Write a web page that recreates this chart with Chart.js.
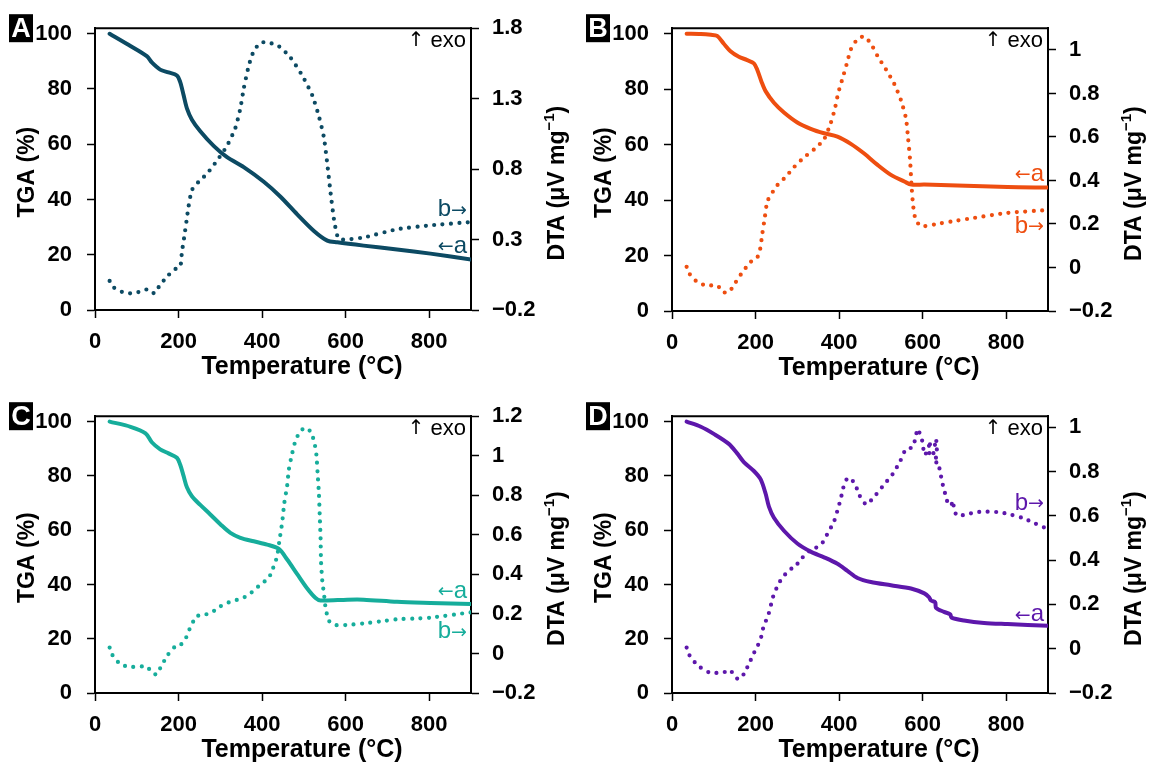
<!DOCTYPE html>
<html>
<head>
<meta charset="utf-8">
<script src="https://cdn.jsdelivr.net/npm/chart.js@4.4.1/dist/chart.umd.min.js"></script>
<style>
  body { margin: 0; background: #fff; width: 1154px; height: 776px; position: relative; overflow: hidden; }
  .panel { position: absolute; width: 577px; height: 388px; }
</style>
</head>
<body>
<div class="panel" style="left:0;top:0"><canvas id="chartA" width="577" height="388"></canvas></div>
<div class="panel" style="left:577px;top:0"><canvas id="chartB" width="577" height="388"></canvas></div>
<div class="panel" style="left:0;top:388px"><canvas id="chartC" width="577" height="388"></canvas></div>
<div class="panel" style="left:577px;top:388px"><canvas id="chartD" width="577" height="388"></canvas></div>
<script>
// tick labels
const tempTicks = [0, 200, 400, 600, 800];
const tgaTicks = [0, 20, 40, 60, 80, 100];
const dtaTicksA = [-0.2, 0.3, 0.8, 1.3, 1.8];
const dtaTicksB = [-0.2, 0, 0.2, 0.4, 0.6, 0.8, 1];
const dtaTicksC = [-0.2, 0, 0.2, 0.4, 0.6, 0.8, 1, 1.2];
const dtaTicksD = [-0.2, 0, 0.2, 0.4, 0.6, 0.8, 1];

// A
const tgaTempA = [35, 80, 124, 136, 156, 176, 196, 204, 212, 220, 232, 252, 284, 316, 356, 404, 444, 484, 524, 556, 580, 643, 723, 803, 900];
const tgaA = [100, 96, 91.9, 89.6, 87, 86, 84.9, 82.5, 77.8, 73, 68.9, 64.7, 59.4, 55.3, 51.7, 46.4, 41, 34.6, 28.6, 25.1, 24.5, 23.3, 21.9, 20.4, 18.3];
const dtaTempA = [35, 45, 65, 85, 105, 124, 134, 142, 156, 176, 192, 204, 208, 214, 219, 224, 232, 248, 268, 292, 316, 336, 348, 356, 368, 380, 396, 412, 440, 468, 496, 520, 536, 548, 556, 564, 572, 580, 588, 643, 723, 803, 900];
const dtaA = [0.006, -0.04, -0.072, -0.082, -0.072, -0.054, -0.063, -0.082, -0.021, 0.048, 0.09, 0.106, 0.21, 0.327, 0.431, 0.536, 0.651, 0.71, 0.767, 0.86, 0.965, 1.092, 1.232, 1.371, 1.533, 1.638, 1.696, 1.7, 1.672, 1.591, 1.464, 1.324, 1.174, 1.023, 0.837, 0.628, 0.443, 0.327, 0.299, 0.315, 0.373, 0.401, 0.424];

// B
const tgaTempB = [35, 69, 93, 108, 124, 140, 160, 180, 196, 204, 214, 224, 244, 268, 300, 332, 364, 396, 428, 460, 492, 524, 556, 573, 604, 683, 803, 900];
const tgaB = [100, 99.9, 99.6, 99.2, 96.4, 93.7, 91.7, 90.5, 89.3, 87, 82.8, 79.3, 75.1, 71.6, 68, 65.7, 64.1, 62.9, 60.3, 56.8, 52.7, 49.1, 46.7, 45.6, 45.6, 45.3, 44.7, 44.5];
const dtaTempB = [35, 41, 61, 85, 105, 117, 124, 136, 152, 168, 188, 204, 211, 216, 222, 228, 238, 252, 272, 292, 316, 340, 364, 380, 390, 398, 409, 419, 428, 444, 460, 476, 492, 512, 532, 548, 560, 565, 570, 573, 577, 582, 592, 604, 643, 683, 723, 803, 900];
const dtaB = [0.003, -0.027, -0.068, -0.084, -0.08, -0.098, -0.114, -0.114, -0.069, -0.023, 0.025, 0.046, 0.085, 0.153, 0.228, 0.303, 0.338, 0.378, 0.416, 0.461, 0.506, 0.543, 0.589, 0.664, 0.731, 0.803, 0.874, 0.941, 1.002, 1.05, 1.062, 1.029, 0.972, 0.911, 0.844, 0.769, 0.686, 0.596, 0.491, 0.386, 0.288, 0.228, 0.195, 0.19, 0.203, 0.216, 0.228, 0.251, 0.264];

// C
const tgaTempC = [35, 85, 121, 136, 156, 176, 196, 204, 212, 220, 232, 252, 276, 300, 324, 348, 380, 412, 440, 460, 484, 508, 528, 540, 604, 643, 723, 803, 900];
const tgaC = [100, 98.1, 95.7, 92.4, 89.8, 88.3, 86.7, 84.1, 80, 75.8, 72.5, 69.3, 65.8, 62.2, 59, 57.2, 55.9, 54.7, 53.1, 49.2, 43.8, 38.5, 35, 34.1, 34.4, 34.4, 33.6, 33.2, 32.8];
const dtaTempC = [35, 41, 61, 85, 124, 134, 147, 156, 172, 184, 192, 204, 214, 222, 228, 236, 244, 260, 280, 300, 320, 340, 360, 376, 392, 408, 420, 428, 436, 441, 448, 453, 460, 464, 472, 480, 492, 506, 517, 525, 530, 533, 536, 538, 540, 541, 544, 548, 552, 560, 576, 604, 643, 683, 723, 763, 803, 900];
const dtaC = [0.03, -0.006, -0.055, -0.068, -0.066, -0.091, -0.107, -0.075, -0.014, 0.018, 0.035, 0.043, 0.062, 0.1, 0.132, 0.165, 0.189, 0.194, 0.209, 0.238, 0.258, 0.271, 0.287, 0.311, 0.341, 0.368, 0.398, 0.442, 0.491, 0.564, 0.662, 0.759, 0.849, 0.93, 1.012, 1.077, 1.126, 1.142, 1.118, 1.069, 1.004, 0.906, 0.808, 0.694, 0.58, 0.466, 0.368, 0.303, 0.23, 0.165, 0.144, 0.144, 0.152, 0.162, 0.173, 0.176, 0.181, 0.208];

// D
const tgaTempD = [35, 69, 101, 136, 156, 172, 196, 212, 224, 232, 244, 268, 300, 332, 364, 396, 420, 444, 476, 524, 572, 604, 615, 620, 630, 632, 651, 666, 669, 699, 747, 803, 900];
const tgaD = [100, 98.1, 95.4, 91.8, 88.3, 85.1, 81.8, 78.8, 73.5, 68.7, 64.6, 59.8, 55.1, 52.1, 50, 47.6, 45, 42.4, 40.9, 39.7, 38.5, 36.7, 35.3, 34.1, 33.4, 31.4, 29.9, 29, 27.8, 26.7, 25.8, 25.4, 24.8];
const dtaTempD = [35, 41, 61, 89, 113, 132, 140, 150, 160, 172, 188, 196, 204, 212, 220, 230, 234, 239, 244, 252, 260, 272, 288, 300, 312, 328, 344, 360, 368, 378, 388, 398, 404, 410, 420, 430, 440, 448, 464, 476, 488, 508, 528, 546, 560, 576, 581, 588, 594, 600, 604, 612, 618, 616, 624, 628, 632, 634, 628, 636, 644, 648, 653, 658, 668, 672, 676, 683, 707, 731, 755, 779, 799, 840, 870, 900];
const dtaD = [0.005, -0.027, -0.075, -0.107, -0.109, -0.103, -0.097, -0.126, -0.138, -0.114, -0.053, -0.02, 0.009, 0.042, 0.106, 0.147, 0.179, 0.212, 0.248, 0.28, 0.309, 0.338, 0.365, 0.383, 0.411, 0.44, 0.455, 0.478, 0.505, 0.539, 0.575, 0.637, 0.677, 0.727, 0.771, 0.764, 0.735, 0.695, 0.652, 0.669, 0.695, 0.742, 0.788, 0.846, 0.902, 0.909, 0.938, 0.992, 0.967, 0.931, 0.875, 0.894, 0.938, 0.873, 0.873, 0.904, 0.948, 0.88, 0.836, 0.844, 0.778, 0.742, 0.706, 0.669, 0.645, 0.669, 0.623, 0.6, 0.608, 0.617, 0.619, 0.617, 0.611, 0.59, 0.565, 0.54];

const FONT = '"Liberation Sans", "DejaVu Sans", sans-serif';
const ARROW_FONT = '"DejaVu Sans", sans-serif';

function pts(xs, ys) {
  return xs.map((x, i) => ({ x: x, y: ys[i] }));
}

function fmt(v) {
  const r = Math.round(v * 10) / 10;
  return (r < 0 ? '\u2212' : '') + String(Math.abs(r));
}

// text made of pieces in different fonts, right edge at xr
function drawParts(ctx, parts, xr, y) {
  let total = 0;
  parts.forEach(p => { ctx.font = p.font; p.w = ctx.measureText(p.t).width; total += p.w; });
  let x = xr - total;
  ctx.textAlign = 'left';
  parts.forEach(p => { ctx.font = p.font; ctx.fillText(p.t, x, y + (p.dy || 0)); x += p.w; });
}

// frame top line, panel letter, axis titles and the small labels
const decor = {
  id: 'decor',
  afterDraw(chart, args, o) {
    const { ctx, chartArea: a, scales } = chart;
    const midY = (a.top + a.bottom) / 2;
    ctx.save();
    ctx.strokeStyle = '#000';
    ctx.lineWidth = 2;
    ctx.beginPath();
    ctx.moveTo(a.left - 1, a.top);
    ctx.lineTo(a.right + 1, a.top);
    ctx.stroke();

    ctx.fillStyle = '#000';
    ctx.fillRect(9, a.top - 14, 24, 28);
    ctx.fillStyle = '#fff';
    ctx.font = 'bold 27px ' + FONT;
    ctx.textAlign = 'center';
    ctx.textBaseline = 'middle';
    ctx.fillText(o.letter, 21, a.top + 1);

    ctx.fillStyle = '#000';
    ctx.font = 'bold 25px ' + FONT;
    ctx.fillText('Temperature (\u00B0C)', (a.left + a.right) / 2 + 19, a.bottom + 57);

    ctx.save();
    ctx.font = 'bold 23px ' + FONT;
    ctx.translate(28, midY + 3);
    ctx.rotate(-Math.PI / 2);
    ctx.fillText('TGA (%)', 0, 0);
    ctx.restore();

    ctx.save();
    ctx.translate(a.right + 87, midY + 14);
    ctx.rotate(-Math.PI / 2);
    const main = 'DTA (\u03BCV mg', sup = '\u22121', tail = ')';
    ctx.font = 'bold 23px ' + FONT;
    const w1 = ctx.measureText(main).width, w3 = ctx.measureText(tail).width;
    ctx.font = 'bold 15px ' + FONT;
    const w2 = ctx.measureText(sup).width;
    drawParts(ctx, [
      { t: main, font: 'bold 23px ' + FONT },
      { t: sup, font: 'bold 15px ' + FONT, dy: -8 },
      { t: tail, font: 'bold 23px ' + FONT }
    ], (w1 + w2 + w3) / 2, 0);
    ctx.restore();

    drawParts(ctx, [
      { t: '\u2191', font: '20px ' + ARROW_FONT },
      { t: ' exo', font: '22px ' + FONT }
    ], a.right - 5, a.top + 13);

    ctx.fillStyle = o.color;
    drawParts(ctx, [
      { t: 'b', font: '24px ' + FONT },
      { t: '\u2192', font: '19px ' + ARROW_FONT, dy: 1 }
    ], a.right - 4, scales.y2.getPixelForValue(o.bAt));
    drawParts(ctx, [
      { t: '\u2190', font: '19px ' + ARROW_FONT, dy: 1 },
      { t: 'a', font: '24px ' + FONT }
    ], a.right - 4, scales.y.getPixelForValue(o.aAt));
    ctx.restore();
  }
};

function axisStyle() {
  return {
    grid: { display: true, drawOnChartArea: false, drawTicks: true, tickLength: 8, tickColor: '#000', tickWidth: 1.5 },
    border: { display: true, color: '#000', width: 2 }
  };
}

function makePanel(id, p) {
  const tickFont = { family: FONT, size: 22, weight: 'bold' };
  new Chart(document.getElementById(id), {
    type: 'line',
    data: {
      datasets: [
        {
          label: 'TGA',
          data: pts(p.tgaT, p.tga),
          yAxisID: 'y',
          borderColor: p.color,
          borderWidth: 4,
          pointRadius: 0,
          tension: 0.3,
          borderCapStyle: 'round',
          borderJoinStyle: 'round'
        },
        {
          label: 'DTA',
          data: pts(p.dtaT, p.dta),
          yAxisID: 'y2',
          borderColor: p.color,
          borderWidth: 4.2,
          borderDash: [0, 8.4],
          borderCapStyle: 'round',
          pointRadius: 0,
          tension: 0.2
        }
      ]
    },
    options: {
      responsive: false,
      animation: false,
      layout: { padding: { top: p.top, left: 0, right: 0, bottom: 0 } },
      plugins: {
        legend: { display: false },
        tooltip: { enabled: false },
        decor: { letter: p.letter, color: p.color, aAt: p.aAt, bAt: p.bAt }
      },
      scales: {
        x: Object.assign(axisStyle(), {
          type: 'linear', min: 0, max: 900,
          afterBuildTicks: s => { s.ticks = tempTicks.map(v => ({ value: v })); },
          afterFit: s => { s.height = 388 - p.bottom; },
          ticks: { font: tickFont, color: '#000', padding: 11, maxRotation: 0, autoSkip: false }
        }),
        y: Object.assign(axisStyle(), {
          position: 'left', min: 0, max: 102,
          afterBuildTicks: s => { s.ticks = tgaTicks.map(v => ({ value: v })); },
          afterFit: s => { s.width = 95; },
          ticks: { font: tickFont, color: '#000', padding: 15, autoSkip: false }
        }),
        y2: Object.assign(axisStyle(), {
          position: 'right', min: -0.2, max: p.dtaMax,
          afterBuildTicks: s => { s.ticks = p.dtaTicks.map(v => ({ value: v })); },
          afterFit: s => { s.width = 106; },
          ticks: { font: tickFont, color: '#000', padding: 13, autoSkip: false, callback: v => fmt(v) }
        })
      }
    },
    plugins: [decor]
  });
}

makePanel('chartA', { letter: 'A', color: '#0C4A63', top: 23, bottom: 310, dtaMax: 1.8, dtaTicks: dtaTicksA,
  tgaT: tgaTempA, tga: tgaA, dtaT: dtaTempA, dta: dtaA, aAt: 23.2, bAt: 0.512 });
makePanel('chartB', { letter: 'B', color: '#EE4E10', top: 24, bottom: 311, dtaMax: 1.1, dtaTicks: dtaTicksB,
  tgaT: tgaTempB, tga: tgaB, dtaT: dtaTempB, dta: dtaB, aAt: 49.4, bAt: 0.189 });
makePanel('chartC', { letter: 'C', color: '#16AD9B', top: 18, bottom: 305, dtaMax: 1.2, dtaTicks: dtaTicksC,
  tgaT: tgaTempC, tga: tgaC, dtaT: dtaTempC, dta: dtaC, aAt: 37.5, bAt: 0.11 });
makePanel('chartD', { letter: 'D', color: '#5D17AB', top: 18, bottom: 305, dtaMax: 1.05, dtaTicks: dtaTicksD,
  tgaT: tgaTempD, tga: tgaD, dtaT: dtaTempD, dta: dtaD, aAt: 28.9, bAt: 0.657 });
</script>
</body>
</html>
